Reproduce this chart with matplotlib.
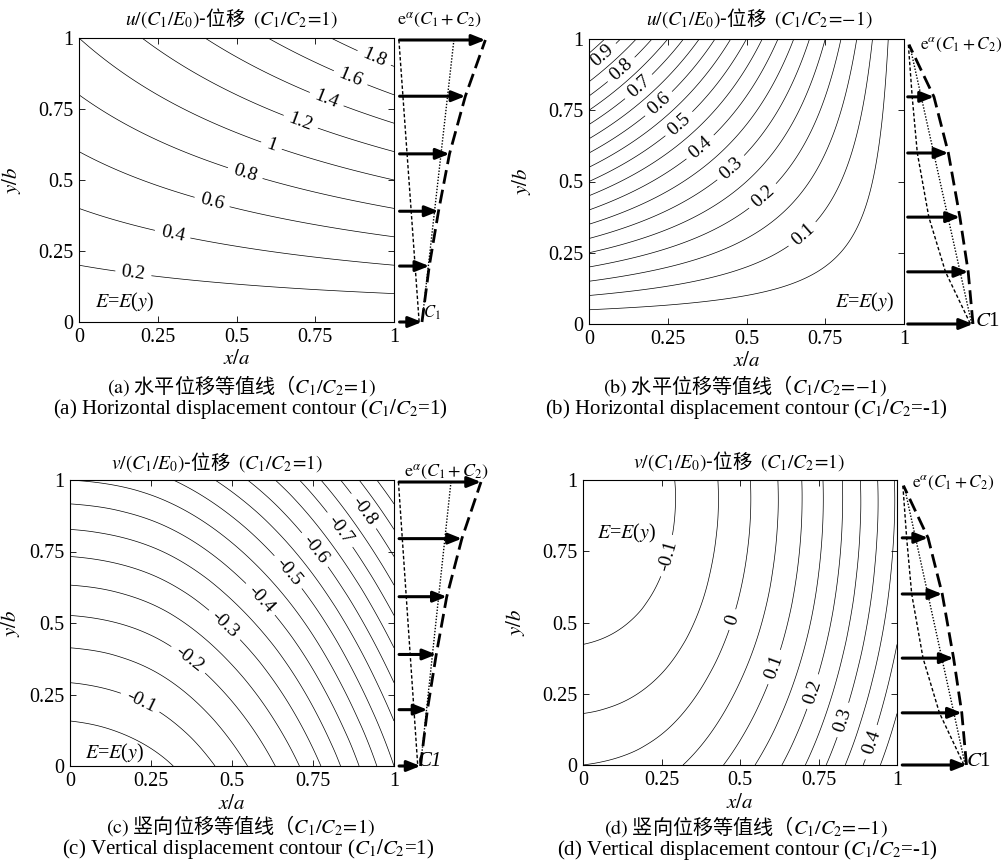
import numpy as np
import matplotlib
matplotlib.use('Agg')
import matplotlib.pyplot as plt
import matplotlib.tri as mtri

plt.rcParams['font.family'] = ['Liberation Serif', 'Noto Sans CJK SC']
plt.rcParams['mathtext.fontset'] = 'stix'

W, H = 1008, 865

# coarse grid of field values (rows: y, cols: x)
grid_x = [0, 0.25, 0.5, 0.75, 1]
grid_y = [0, 0.25, 0.5, 0.75, 1]
u_pos = [[0.00, 0.000, 0.000, 0.000, 0.00],
         [0.25, 0.312, 0.375, 0.438, 0.50],
         [0.50, 0.625, 0.750, 0.875, 1.00],
         [0.75, 0.938, 1.125, 1.312, 1.50],
         [1.00, 1.250, 1.500, 1.750, 2.00]]
u_neg = [[0.00, 0.000, 0.000, 0.000, 0.0],
         [0.25, 0.188, 0.125, 0.062, 0.0],
         [0.50, 0.375, 0.250, 0.125, 0.0],
         [0.75, 0.562, 0.375, 0.188, 0.0],
         [1.00, 0.750, 0.500, 0.250, 0.0]]
v_pos = [[0.000, -0.031, -0.125, -0.281, -0.500],
         [-0.084, -0.116, -0.209, -0.366, -0.584],
         [-0.188, -0.219, -0.313, -0.469, -0.688],
         [-0.309, -0.341, -0.434, -0.591, -0.809],
         [-0.450, -0.481, -0.575, -0.731, -0.950]]
v_neg = [[0.000, 0.031, 0.125, 0.281, 0.500],
         [-0.066, -0.035, 0.059, 0.215, 0.434],
         [-0.112, -0.081, 0.013, 0.169, 0.388],
         [-0.137, -0.106, -0.012, 0.144, 0.363],
         [-0.142, -0.111, -0.017, 0.139, 0.358]]

lev_u_pos = [0.2, 0.4, 0.6, 0.8, 1.0, 1.2, 1.4, 1.6, 1.8]
lev_u_neg = [0.05, 0.1, 0.15, 0.2, 0.25, 0.3, 0.35, 0.4, 0.45, 0.5,
             0.55, 0.6, 0.65, 0.7, 0.75, 0.8, 0.85, 0.9, 0.95]
lab_u_neg = [0.1, 0.2, 0.3, 0.4, 0.5, 0.6, 0.7, 0.8, 0.9]
lev_v_pos = [-0.9, -0.85, -0.8, -0.75, -0.7, -0.65, -0.6, -0.55, -0.5, -0.45,
             -0.4, -0.35, -0.3, -0.25, -0.2, -0.15, -0.1, -0.05]
lab_v_pos = [-0.8, -0.7, -0.6, -0.5, -0.4, -0.3, -0.2, -0.1]
lev_v_neg = [-0.1, -0.05, 0.0, 0.05, 0.1, 0.15, 0.2, 0.25, 0.3, 0.35, 0.4, 0.45]
lab_v_neg = [-0.1, 0.0, 0.1, 0.2, 0.3, 0.4]

# edge load diagrams (height y/b, load relative to C1)
arrow_y_pos = [0, 0.197, 0.39, 0.592, 0.795, 0.993]
load_pos = [1.0, 1.33, 1.75, 2.25, 2.97, 3.88]
thin_pos_y = [0.993, 0.0]
thin_pos_x = [-0.05, 0.87]
dot_pos_y = [0.993, 0.0]
dot_pos_x = [2.45, 1.0]

arrow_y_neg = [0, 0.183, 0.375, 0.6, 0.797, 0.98]
load_neg = [1.0, 0.925, 0.795, 0.615, 0.39, 0.0]
thin_neg_y = [0.98, 0.797, 0.6, 0.375, 0.183, 0.0]
thin_neg_x = [-0.01, 0.05, 0.13, 0.31, 0.57, 0.96]
dot_neg_y = [0.98, 0.0]
dot_neg_x = [0.01, 0.98]

fig = plt.figure(figsize=(W / 100, H / 100), dpi=100)


def px_axes(l, t, r, b):
    return fig.add_axes([l / W, 1 - b / H, (r - l) / W, (b - t) / H])


def ftext(x, y, s, **kw):
    kw.setdefault('ha', 'center')
    kw.setdefault('va', 'center')
    return fig.text(x / W, 1 - y / H, s, **kw)


def fmt(v):
    return f'{v:g}'


def contour_panel(rect, z, levels, lab_levels, lab_pos, e_pos, e_ha, ylab_x):
    ax = px_axes(*rect)
    X, Y = np.meshgrid(grid_x, grid_y)
    tri = mtri.Triangulation(X.ravel(), Y.ravel())
    zz = np.asarray(z, dtype=float).ravel()
    interp = mtri.CubicTriInterpolator(tri, zz, kind='min_E')
    tri_f, z_f = mtri.UniformTriRefiner(tri).refine_field(zz, triinterpolator=interp, subdiv=5)
    plain = [lv for lv in levels if not np.any(np.isclose(lv, lab_levels))]
    if plain:
        ax.tricontour(tri_f, z_f, levels=plain, colors='k', linewidths=0.5,
                      negative_linestyles='solid')
    cs = ax.tricontour(tri_f, z_f, levels=lab_levels, colors='k', linewidths=0.5,
                       negative_linestyles='solid')
    ax.clabel(cs, manual=lab_pos, inline=True, fmt=fmt, fontsize=14, inline_spacing=6)
    ax.set_xlim(0, 1)
    ax.set_ylim(0, 1)
    ticks = [0, 0.25, 0.5, 0.75, 1]
    ax.set_xticks(ticks, ['0', '0.25', '0.5', '0.75', '1'])
    ax.set_yticks(ticks, ['0', '0.25', '0.5', '0.75', '1'])
    ax.tick_params(direction='in', top=True, right=True, length=4, width=0.6,
                   labelsize=14.5, pad=4)
    for sp in ax.spines.values():
        sp.set_linewidth(0.8)
    ax.set_xlabel(r'$x/a$', fontsize=15)
    ax.set_ylabel(r'$y/b$', fontsize=15)
    ax.xaxis.set_label_coords(0.5, -0.1)
    ax.yaxis.set_label_coords(ylab_x, 0.5)
    ax.text(e_pos[0], e_pos[1], r'$E$=$E$($y$)', transform=ax.transAxes,
            fontsize=14.5, ha=e_ha, va='center')
    return ax


def load_panel(rect, tail_px, unit_px, ys, loads, thin_x, thin_y, dot_x, dot_y):
    l, t, r, b = rect
    ax = px_axes(l, t, r, b)
    ax.set_xlim((l - tail_px) / unit_px, (r - tail_px) / unit_px)
    ax.set_ylim(0, 1)
    ax.axis('off')
    for y, q in zip(ys, loads):
        if q > 0.05:
            ax.annotate('', xy=(q, y), xytext=(-0.02, y),
                        arrowprops=dict(arrowstyle='-|>,head_length=0.8,head_width=0.32',
                                        lw=2.2, color='k', shrinkA=0, shrinkB=0,
                                        mutation_scale=10),
                        annotation_clip=False)
    ax.plot(loads, ys, color='k', lw=2.0, dashes=(5, 2.2), clip_on=False)
    ax.plot(thin_x, thin_y, color='k', lw=1.0, dashes=(2.5, 1.6), clip_on=False)
    ax.plot(dot_x, dot_y, color='k', lw=1.0, ls=(0, (1, 1.2)), clip_on=False)
    return ax


cjk = ['Noto Sans CJK SC']
t_size, cn_size, en_size = 14, 14.5, 15
load_lab = r'$\mathrm{e}^{\alpha}(C_1+C_2)$'

# (a)
contour_panel((79, 38, 394, 322), u_pos, lev_u_pos, lev_u_pos,
              [(0.172, 0.166), (0.296, 0.303), (0.421, 0.416), (0.526, 0.518),
               (0.611, 0.621), (0.701, 0.696), (0.785, 0.781), (0.859, 0.851),
               (0.933, 0.919)], (0.05, 0.07), 'left', -0.178)
load_panel((395, 38, 505, 322), 400, 22, arrow_y_pos, load_pos,
           thin_pos_x, thin_pos_y, dot_pos_x, dot_pos_y)
ftext(232, 18, r'$u/(C_1/E_0)$-位移  $(C_1/C_2\!=\!1)$', family=cjk, fontsize=t_size)
ftext(440, 20, load_lab, fontsize=13)
ftext(423, 313, r'$C_1$', fontsize=12, ha='left')
ftext(241, 386, r'$\mathrm{(a)}$ 水平位移等值线（$C_1/C_2\!=\!\mathrm{1)}$', family=cjk, fontsize=cn_size)
ftext(250, 409, r'(a) Horizontal displacement contour ($C_1/C_2$=1)', fontsize=en_size)

# (b)
contour_panel((589, 39, 904, 324), u_neg, lev_u_neg, lab_u_neg,
              [(0.0455, 0.938), (0.109, 0.885), (0.162, 0.827), (0.225, 0.768),
               (0.289, 0.698), (0.352, 0.622), (0.447, 0.552), (0.553, 0.447),
               (0.675, 0.318)], (0.97, 0.075), 'right', -0.178)
load_panel((905, 39, 1005, 324), 909, 64, arrow_y_neg, load_neg,
           thin_neg_x, thin_neg_y, dot_neg_x, dot_neg_y)
ftext(759, 18, r'$u/(C_1/E_0)$-位移  $(C_1/C_2\!=\!\mathrm{-1)}$', family=cjk, fontsize=t_size)
ftext(920, 45, load_lab, fontsize=12.5, ha='left')
ftext(975, 322, r'$C$1', fontsize=15, ha='left')
ftext(745, 386, r'$\mathrm{(b)}$ 水平位移等值线（$C_1/C_2\!=\!\mathrm{-1)}$', family=cjk, fontsize=cn_size)
ftext(746, 409, r'(b) Horizontal displacement contour ($C_1/C_2$=-1)', fontsize=en_size)

# (c)
contour_panel((70, 480, 394, 766), v_pos, lev_v_pos, lab_v_pos,
              [(0.215, 0.218), (0.364, 0.37), (0.472, 0.487), (0.585, 0.58),
               (0.668, 0.673), (0.755, 0.755), (0.832, 0.825), (0.904, 0.889)],
              (0.046, 0.045), 'left', -0.148)
load_panel((395, 480, 505, 766), 399.5, 21, arrow_y_pos, load_pos,
           thin_pos_x, thin_pos_y, dot_pos_x, dot_pos_y)
ftext(217, 462, r'$v/(C_1/E_0)$-位移  $(C_1/C_2\!=\!1)$', family=cjk, fontsize=t_size)
ftext(447, 472, load_lab, fontsize=13)
ftext(418, 762, 'C1', fontsize=15, fontstyle='italic', ha='left')
ftext(240, 826, r'$\mathrm{(c)}$ 竖向位移等值线（$C_1/C_2\!=\!\mathrm{1)}$', family=cjk, fontsize=cn_size)
ftext(248, 849, r'(c) Vertical displacement contour ($C_1/C_2$=1)', fontsize=en_size)

# (d)
contour_panel((583, 480, 897, 765), v_neg, lev_v_neg, lab_v_neg,
              [(0.278, 0.731), (0.479, 0.509), (0.606, 0.345), (0.733, 0.257),
               (0.828, 0.158), (0.913, 0.082)], (0.045, 0.814), 'left', -0.178)
load_panel((898, 480, 1005, 765), 903.5, 63, arrow_y_neg, load_neg,
           thin_neg_x, thin_neg_y, dot_neg_x, dot_neg_y)
ftext(739, 461, r'$v/(C_1/E_0)$-位移  $(C_1/C_2\!=\!1)$', family=cjk, fontsize=t_size)
ftext(912, 483, load_lab, fontsize=12.5, ha='left')
ftext(966, 762, r'$C$1', fontsize=15, ha='left')
ftext(746, 827, r'$\mathrm{(d)}$ 竖向位移等值线（$C_1/C_2\!=\!\mathrm{-1)}$', family=cjk, fontsize=cn_size)
ftext(747, 850, r'(d) Vertical displacement contour ($C_1/C_2$=-1)', fontsize=en_size)

fig.savefig('out.png', dpi=100, facecolor='white')
